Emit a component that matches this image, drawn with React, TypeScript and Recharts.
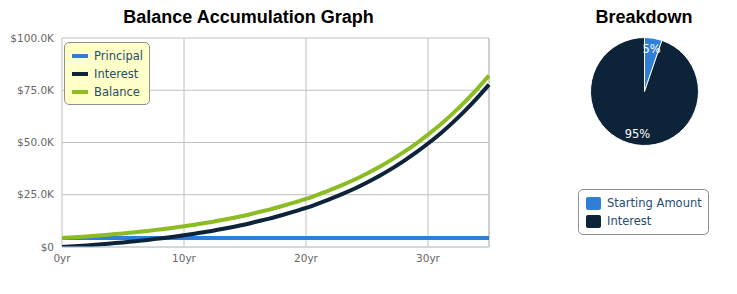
import React from "react";
import {
  LineChart,
  Line,
  XAxis,
  YAxis,
  CartesianGrid,
  Legend,
  ReferenceLine,
  PieChart,
  Pie,
  Cell,
} from "recharts";

// values (dollars per year)
const years = [
  0, 1, 2, 3, 4, 5, 6, 7, 8, 9, 10, 11, 12, 13, 14, 15, 16, 17, 18, 19, 20, 21, 22, 23, 24, 25, 26, 27,
  28, 29, 30, 31, 32, 33, 34, 35,
];
const principal = [
  4300, 4300, 4300, 4300, 4300, 4300, 4300, 4300, 4300, 4300, 4300, 4300, 4300, 4300, 4300, 4300, 4300,
  4300, 4300, 4300, 4300, 4300, 4300, 4300, 4300, 4300, 4300, 4300, 4300, 4300, 4300, 4300, 4300, 4300,
  4300, 4300,
];
const interest = [
  0, 350, 750, 1200, 1700, 2200, 2800, 3400, 4100, 4800, 5600, 6500, 7400, 8500, 9600, 10800, 12200,
  13600, 15200, 16900, 18700, 20800, 23000, 25400, 28000, 30900, 34000, 37400, 41100, 45100, 49500,
  54200, 59400, 65000, 71100, 77700,
];
const balance = [
  4300, 4650, 5050, 5500, 6000, 6500, 7100, 7700, 8400, 9100, 9900, 10800, 11700, 12800, 13900, 15100,
  16500, 17900, 19500, 21200, 23000, 25100, 27300, 29700, 32300, 35200, 38300, 41700, 45400, 49400,
  53800, 58500, 63700, 69300, 75400, 82000,
];
const xTicks = [0, 10, 20, 30];
const yTicks = [0, 25000, 50000, 75000, 100000];

const breakdownNames = ["Starting Amount", "Interest"];
const breakdownValues = [4300, 77700];

const BLUE = "#2f7ed8";
const NAVY = "#0d233a";
const GREEN = "#8bbc21";
const FONT = "'DejaVu Sans', Verdana, sans-serif";

const lineData = years.map((y, i) => ({
  year: y,
  principal: principal[i],
  interest: interest[i],
  balance: balance[i],
}));
const pieData = breakdownNames.map((name, i) => ({ name, value: breakdownValues[i] }));

const seriesList = [
  { key: "principal", name: "Principal", color: BLUE },
  { key: "interest", name: "Interest", color: NAVY },
  { key: "balance", name: "Balance", color: GREEN },
];

function yLabel(v: number) {
  if (v === 0) return "$0";
  return `$${(v / 1000).toFixed(1)}K`;
}

function LineLegend() {
  return (
    <div
      style={{
        background: "#ffffc8",
        border: "1px solid #909090",
        borderRadius: 5,
        padding: "4px 6px 3px 7px",
        fontFamily: FONT,
        fontSize: 11.5,
        color: "#274b6d",
      }}
    >
      {seriesList.map((s) => (
        <div key={s.key} style={{ display: "flex", alignItems: "center", height: 18 }}>
          <span style={{ width: 16, height: 4, background: s.color, marginRight: 6 }} />
          <span>{s.name}</span>
        </div>
      ))}
    </div>
  );
}

function PieLegend() {
  return (
    <div
      style={{
        background: "#fff",
        border: "1px solid #909090",
        borderRadius: 5,
        padding: "4px 6px 4px 7px",
        fontFamily: FONT,
        fontSize: 11.5,
        color: "#274b6d",
      }}
    >
      {pieData.map((d, i) => (
        <div key={d.name} style={{ display: "flex", alignItems: "center", height: 18 }}>
          <span
            style={{
              width: 15,
              height: 13,
              borderRadius: 2,
              background: i === 0 ? BLUE : NAVY,
              marginRight: 6,
            }}
          />
          <span>{d.name}</span>
        </div>
      ))}
    </div>
  );
}

const RADIAN = Math.PI / 180;
function PieLabel(props: any) {
  const { cx, cy, midAngle, outerRadius, percent } = props;
  const r = outerRadius - 11;
  const x = cx + r * Math.cos(-midAngle * RADIAN);
  const y = cy + r * Math.sin(-midAngle * RADIAN);
  return (
    <text
      x={x}
      y={y}
      fill="#fff"
      textAnchor="middle"
      dominantBaseline="central"
      fontSize={11.5}
      fontFamily={FONT}
    >
      {`${Math.round(percent * 100)}%`}
    </text>
  );
}

const titleStyle: React.CSSProperties = {
  position: "absolute",
  top: 7,
  textAlign: "center",
  fontFamily: "'Liberation Sans', Arial, sans-serif",
  fontWeight: "bold",
  fontSize: 18,
  lineHeight: "20px",
  color: "#000",
};

export default function App() {
  return (
    <div
      style={{
        position: "absolute",
        left: 0,
        top: 0,
        width: 737,
        height: 294,
        background: "#fff",
        overflow: "hidden",
      }}
    >
      <div style={{ ...titleStyle, left: 0, width: 497 }}>Balance Accumulation Graph</div>
      <div style={{ ...titleStyle, left: 560, width: 168 }}>Breakdown</div>

      <div style={{ position: "absolute", left: 0, top: 0 }}>
        <LineChart
          width={500}
          height={294}
          data={lineData}
          margin={{ top: 38, right: 11, bottom: 17, left: 0 }}
        >
          <CartesianGrid stroke="#c0c0c0" vertical horizontal />
          <XAxis
            dataKey="year"
            type="number"
            domain={[0, 35]}
            ticks={xTicks}
            tickFormatter={(v) => `${v}yr`}
            height={30}
            tickLine={false}
            axisLine={{ stroke: "#c0d0e0" }}
            tick={{ fill: "#666", fontSize: 10.5, fontFamily: FONT }}
          />
          <YAxis
            type="number"
            domain={[0, 100000]}
            ticks={yTicks}
            tickFormatter={yLabel}
            width={62}
            allowDataOverflow
            tickLine={false}
            axisLine={false}
            tick={{ fill: "#666", fontSize: 10.5, fontFamily: FONT }}
          />
          <ReferenceLine x={35} stroke="#c0c0c0" />
          {seriesList.map((s) => (
            <Line
              key={s.key}
              type="monotone"
              dataKey={s.key}
              name={s.name}
              stroke={s.color}
              strokeWidth={4}
              dot={false}
              isAnimationActive={false}
            />
          ))}
          <Legend
            layout="vertical"
            align="center"
            verticalAlign="middle"
            content={<LineLegend />}
            wrapperStyle={{ left: 64, top: 42, width: "auto", height: "auto" }}
          />
        </LineChart>
      </div>

      <div style={{ position: "absolute", left: 560, top: 0 }}>
        <PieChart width={177} height={294} margin={{ top: 0, right: 0, bottom: 0, left: 0 }}>
          <Pie
            data={pieData}
            dataKey="value"
            nameKey="name"
            cx={84.5}
            cy={91.5}
            outerRadius={54}
            startAngle={90}
            endAngle={-270}
            stroke="#fff"
            strokeWidth={1}
            label={PieLabel}
            labelLine={false}
            isAnimationActive={false}
          >
            {pieData.map((d, i) => (
              <Cell key={d.name} fill={i === 0 ? BLUE : NAVY} />
            ))}
          </Pie>
          <Legend
            layout="vertical"
            align="center"
            verticalAlign="middle"
            content={<PieLegend />}
            wrapperStyle={{ left: 18, top: 189, width: 131, height: "auto" }}
          />
        </PieChart>
      </div>
    </div>
  );
}
